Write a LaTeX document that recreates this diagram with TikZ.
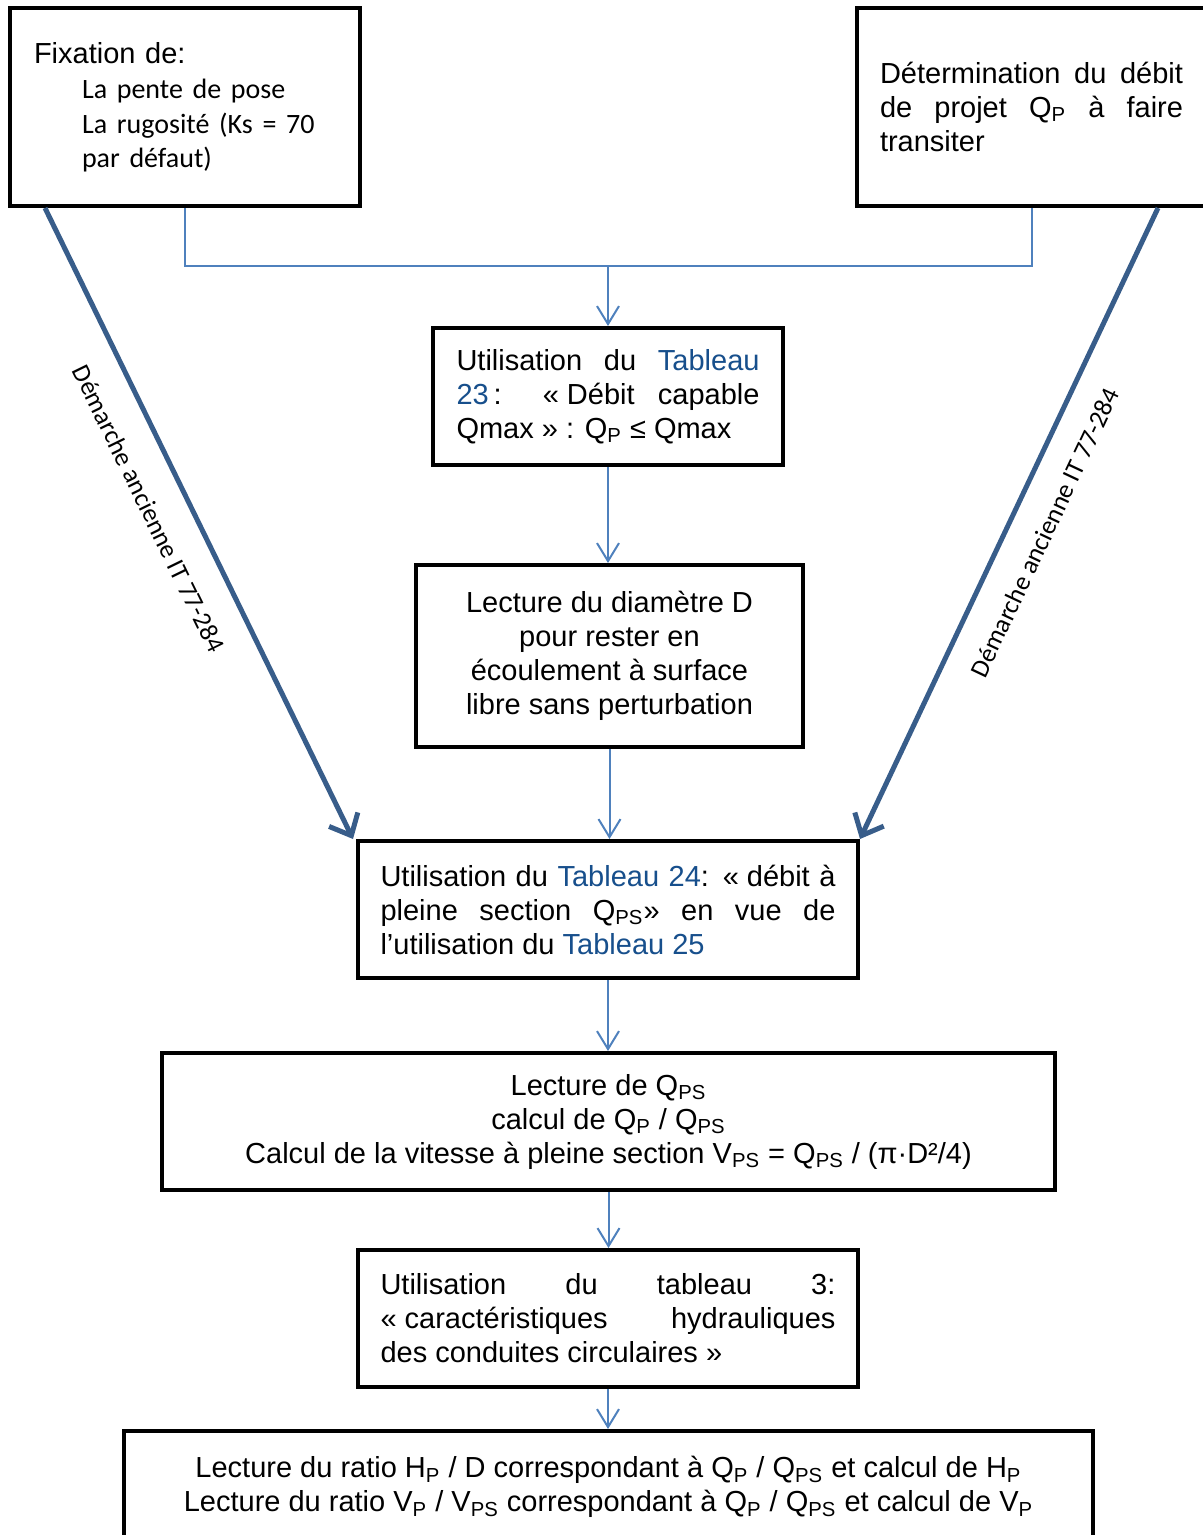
\documentclass[tikz,border=0pt]{standalone}
\usepackage{fontspec}
\setmainfont{Liberation Sans}
\newfontfamily\calibri{Carlito}
\usetikzlibrary{arrows.meta,positioning}
\setlength{\parindent}{0pt}
\definecolor{linkblue}{RGB}{79,129,189}
\definecolor{pathblue}{RGB}{56,93,138}
\definecolor{refblue}{RGB}{23,79,140}
\newcommand{\lo}[1]{\textsubscript{#1}}
\newcommand{\reftab}[1]{\textcolor{refblue}{#1}}
\tikzset{
  procbox/.style={draw, line width=2pt, fill=white, inner sep=0pt,
    font=\fontsize{14.5}{17}\selectfont},
  flow/.style={draw=linkblue, line width=1pt, -{Straight Barb[length=9pt,width=11pt]}},
  oldway/.style={draw=pathblue, line width=2.5pt, -{Straight Barb[length=9pt,width=16pt]}},
  oldlabel/.style={sloped, font=\calibri\fontsize{13}{15}\selectfont}
}
\begin{document}
\begin{tikzpicture}[x=0.5pt, y=-0.5pt]
  \useasboundingbox (0,0) rectangle (1203,1535);
  % top row
  \node[procbox, minimum width=175pt, minimum height=99pt, text width=151pt, align=left]
    (fix) at (185,107) {Fixation de:\\ \calibri\fontsize{14}{17.5}\selectfont
      \hspace*{24pt}La pente de pose\\ \hspace*{24pt}La rugosité (Ks = 70\\
      \hspace*{24pt}par défaut)};
  \node[procbox, minimum width=174.5pt, minimum height=99pt, text width=151.5pt, align=justify]
    (det) at (1031.5,107) {Détermination du débit\linebreak de projet Q\lo{P} à faire\linebreak transiter};
  % main column
  \node[procbox, minimum width=175pt, minimum height=68.5pt, text width=151.5pt, align=justify]
    (t23) at (608,396.5) {Utilisation du \reftab{Tableau}\linebreak \reftab{23}\,: \mbox{« Débit} capable\linebreak
      Qmax » : Q\lo{P} ≤ Qmax};
  \node[procbox, minimum width=193.5pt, minimum height=91pt, align=center]
    (diam) at (609.5,656) {Lecture du diamètre D\\ pour rester en\\ écoulement à surface\\ libre sans perturbation};
  \node[procbox, minimum width=250pt, minimum height=68.5pt, text width=227.5pt, align=justify]
    (t24) at (608,909.5) {Utilisation du \reftab{Tableau 24}: \mbox{« débit} à\linebreak pleine section Q\lo{PS}» en vue de\linebreak
      l’utilisation du \reftab{Tableau 25}};
  \node[procbox, minimum width=446.5pt, minimum height=68.5pt, align=center]
    (lqps) at (608.5,1121.5) {Lecture de Q\lo{PS}\\ calcul de Q\lo{P} / Q\lo{PS}\\
      Calcul de la vitesse à pleine section V\lo{PS} = Q\lo{PS} / (π·D²/4)};
  \node[procbox, minimum width=250pt, minimum height=68.5pt, text width=227.5pt, align=justify]
    (t3) at (608,1318.5) {Utilisation du tableau 3:\linebreak \mbox{« caractéristiques} hydrauliques\linebreak
      des conduites circulaires »};
  \node[procbox, minimum width=484.5pt, minimum height=56pt, align=center]
    (last) at (608.5,1487) {Lecture du ratio H\lo{P} / D correspondant à Q\lo{P} / Q\lo{PS} et calcul de H\lo{P}\\
      Lecture du ratio V\lo{P} / V\lo{PS} correspondant à Q\lo{P} / Q\lo{PS} et calcul de V\lo{P}};
  % connectors
  \coordinate (join) at (608,266);
  \draw[flow, -] (fix.south) |- (join) -| (det.south);
  \draw[flow] (join) -- (t23.north);
  \foreach \a/\b in {t23/diam, diam/t24, t24/lqps, lqps/t3, t3/last}
    \draw[flow] (\a.south) -- (\a.south |- \b.north);
  % old method
  \draw[oldway] ([xshift=18.5pt]fix.south west) -- ([xshift=-1.5pt]t24.north west)
    node[oldlabel, pos=0.45, below=10pt] {Démarche ancienne IT 77-284};
  \draw[oldway] ([xshift=151.5pt]det.south west) -- (t24.north east)
    node[oldlabel, pos=0.49, below=9pt] {Démarche ancienne IT 77-284};
\end{tikzpicture}
\end{document}
